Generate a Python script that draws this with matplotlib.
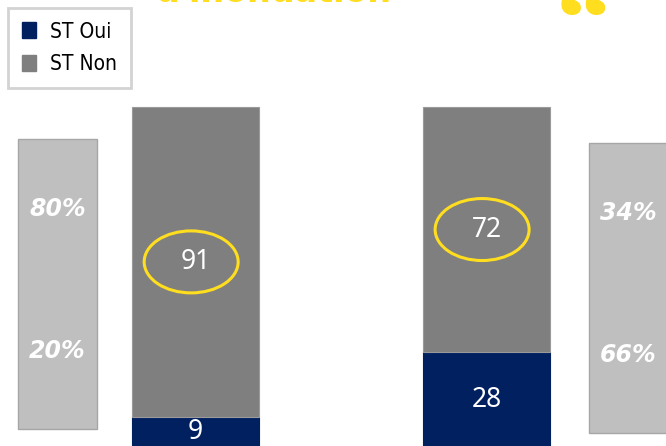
import matplotlib.pyplot as plt
from matplotlib.patches import Ellipse, Patch

# stacked shares per group (ST Oui at the bottom, ST Non on top)
groups = [0, 1]
st_oui = [9, 28]
st_non = [91, 72]

# side panels with the percentage split
panel_x = [-0.474, 1.488]
panel_low = [5.4, 4.3]
panel_high = [90.6, 89.4]
panel_top_lbl = ['80%', '34%']
panel_bot_lbl = ['20%', '66%']

navy = '#002060'
grey = '#7f7f7f'
light = '#bfbfbf'
yellow = '#ffdd1f'

fig = plt.figure(figsize=(6.66, 4.46), dpi=100)
ax = fig.add_axes([0, 0, 1, 1])
ax.set_xlim(-0.672, 1.617)
ax.set_ylim(0.44, 131.4)
ax.axis('off')

# side panels
ax.bar(panel_x, [h - l for h, l in zip(panel_high, panel_low)], bottom=panel_low,
       width=0.271, color=light, edgecolor='#a6a6a6', linewidth=1)
for x, lo, hi, t, b in zip(panel_x, panel_low, panel_high, panel_top_lbl, panel_bot_lbl):
    span = hi - lo
    ax.text(x, lo + span * 0.76, t, ha='center', va='center', color='white',
            fontsize=17, fontweight='bold', style='italic', family='DejaVu Sans')
    ax.text(x, lo + span * 0.27, b, ha='center', va='center', color='white',
            fontsize=17, fontweight='bold', style='italic', family='DejaVu Sans')

# main stacked bars
b1 = ax.bar(groups, st_oui, width=0.436, color=navy, edgecolor=navy, linewidth=0.8)
b2 = ax.bar(groups, st_non, bottom=st_oui, width=0.436, color=grey,
            edgecolor='#9a9a9a', linewidth=0.8)

for x, o, n in zip(groups, st_oui, st_non):
    ax.text(x, o / 2, str(o), ha='center', va='center', color='white',
            fontsize=19, family='Noto Sans')
    yc = o + n / 2
    ax.text(x, yc, str(n), ha='center', va='center', color='white',
            fontsize=19, family='Noto Sans')
    ax.add_patch(Ellipse((x - 0.015, yc), 0.323, 18.2, fill=False,
                         edgecolor=yellow, linewidth=2.2))

# title remnant and quote mark at the top edge
fig.text(0.233, 1 - 2 / 446, "d'inondation", color=yellow, fontsize=24,
         fontweight='heavy', va='baseline', ha='left', family='DejaVu Sans')
fig.text(0.835, 1 - 55 / 446, '\u201c', color=yellow, fontsize=80,
         fontweight='bold', va='baseline', ha='left', family='Liberation Serif')

leg = ax.legend([Patch(color=navy), Patch(color=grey)], ['ST Oui', 'ST Non'],
                loc='upper left', bbox_to_anchor=(8 / 666, 1 - 8 / 446),
                bbox_transform=fig.transFigure, frameon=True, fancybox=False,
                prop={'family': 'DejaVu Sans', 'stretch': 'condensed', 'size': 15},
                handlelength=0.67, handleheight=0.82, handletextpad=0.72,
                labelspacing=0.6, borderpad=0.65, borderaxespad=0)
leg.get_frame().set_edgecolor('#c8c8c8')
leg.get_frame().set_linewidth(2)

fig.savefig('out.png', dpi=100)
